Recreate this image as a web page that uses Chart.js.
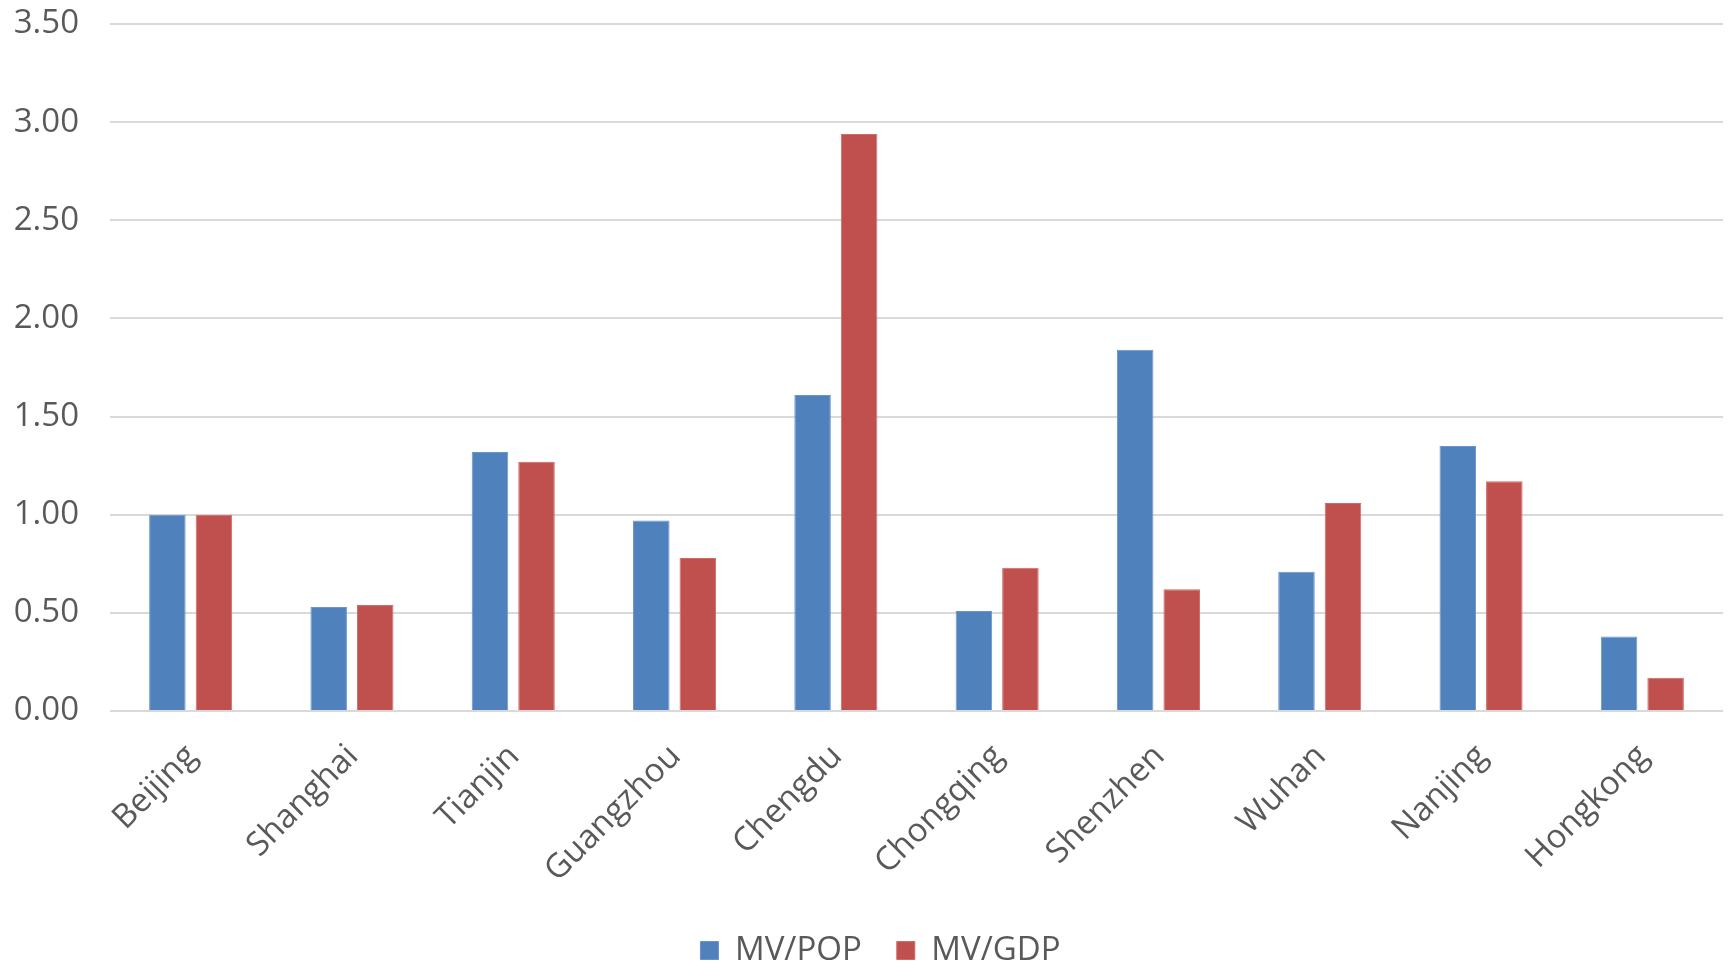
<!DOCTYPE html>
<html>
<head>
<meta charset="utf-8">
<script src="https://cdn.jsdelivr.net/npm/chart.js@4/dist/chart.umd.min.js"></script>
<style>
  html, body { margin: 0; padding: 0; background: #fff; }
  #wrap { width: 1733px; height: 965px; position: relative; }
</style>
</head>
<body>
<div id="wrap"><canvas id="mvChart"></canvas></div>
<script>
// City market value ratios
const cities = ['Beijing', 'Shanghai', 'Tianjin', 'Guangzhou', 'Chengdu', 'Chongqing', 'Shenzhen', 'Wuhan', 'Nanjing', 'Hongkong'];
const mvPop = [1.00, 0.53, 1.32, 0.97, 1.61, 0.51, 1.84, 0.71, 1.35, 0.38];
const mvGdp = [1.00, 0.54, 1.27, 0.78, 2.94, 0.73, 0.62, 1.06, 1.17, 0.17];
const yTicks = [0, 0.5, 1.0, 1.5, 2.0, 2.5, 3.0, 3.5];

const FONT = "'Open Sans', 'Noto Sans', sans-serif";
const TEXT = '#595959';
const GRID = '#d9d9d9';

// nudge the legend a bit right, like the original sits
const legendShift = {
  id: 'legendShift',
  afterLayout(chart) {
    if (!chart.legend) return;
    chart.legend.left += 19;
    chart.legend.right += 19;
  },
};

new Chart(document.getElementById('mvChart'), {
  type: 'bar',
  data: {
    labels: cities,
    datasets: [
      { label: 'MV/POP', data: mvPop, backgroundColor: '#4f81bd', borderColor: '#6a95cc', borderWidth: 1 },
      { label: 'MV/GDP', data: mvGdp, backgroundColor: '#c0504d', borderColor: '#d06a67', borderWidth: 1 },
    ],
  },
  plugins: [legendShift],
  options: {
    responsive: true,
    maintainAspectRatio: false,
    animation: false,
    datasets: { bar: { categoryPercentage: 0.577, barPercentage: 0.785 } },
    layout: { padding: { top: 24, right: 10, left: 0, bottom: -12 } },
    plugins: {
      tooltip: { enabled: false },
      legend: {
        position: 'bottom',
        labels: { font: { family: FONT, size: 33 }, color: TEXT, boxWidth: 18, boxHeight: 18, padding: 35 },
      },
    },
    scales: {
      x: {
        grid: { display: false, drawTicks: false },
        border: { display: false },
        ticks: { font: { family: FONT, size: 33 }, color: TEXT, minRotation: 45, maxRotation: 45, padding: 26, labelOffset: 1 },
        afterFit: s => { s.height = 188; },
      },
      y: {
        min: 0,
        max: 3.5,
        afterBuildTicks: s => { s.ticks = yTicks.map(v => ({ value: v })); },
        grid: { color: GRID, lineWidth: 2, drawTicks: false },
        border: { display: false },
        ticks: { font: { family: FONT, size: 33 }, color: TEXT, padding: 31, callback: v => Number(v).toFixed(2) },
        afterFit: s => { s.width = 110; s.paddingTop = 0; s.paddingBottom = 0; },
      },
    },
  },
});
</script>
</body>
</html>
